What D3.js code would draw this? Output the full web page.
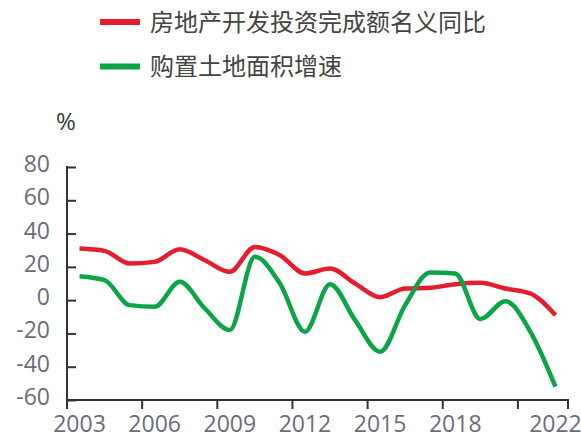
<!DOCTYPE html>
<html>
<head>
<meta charset="utf-8">
<script src="https://cdn.jsdelivr.net/npm/d3@7"></script>
<style>
  body { margin: 0; background: #fff; }
  svg { display: block; }
</style>
</head>
<body>
<script>
const width = 581, height = 441;

// annual data, % y/y
const years = d3.range(2003, 2023).map(String);
const investYoY = [31, 29.6, 22, 23, 30.6, 24, 17, 32, 27, 16, 19, 10, 1.8, 7, 7.4, 9.6, 10.4, 7, 4, -9];
const landYoY = [14.4, 12, -3, -4, 11, -5, -18, 26, 10, -19, 9.6, -12, -31, -3, 16.6, 16, -11.4, -0.6, -19, -52];
const yTicks = [-60, -40, -20, 0, 20, 40, 60, 80];
const xLabels = ['2003', '2006', '2009', '2012', '2015', '2018', '2022'];
const xTickYears = ['2003', '2006', '2009', '2012', '2015', '2018', '2021'];

const seriesNames = ['房地产开发投资完成额名义同比', '购置土地面积增速'];
const colors = ['#e41e2c', '#0ba545'];

const plotL = 67, plotR = 568, plotT = 167, plotB = 400;

const svg = d3.select('body').append('svg')
  .attr('width', width)
  .attr('height', height);

const x = d3.scaleBand().domain(years).range([plotL, plotR]).padding(0);
const y = d3.scaleLinear().domain([-60, 80]).range([plotB, plotT]);

const axisColor = '#333';
const tickText = '#6d6c7a';
const numFont = '"Open Sans", "Noto Sans", sans-serif';

// y axis, ticks pointing inward
const yAxis = svg.append('g')
  .attr('transform', `translate(${plotL},0)`)
  .call(d3.axisRight(y).tickValues(yTicks).tickSize(9).tickFormat(''));
yAxis.select('.domain').remove();
yAxis.selectAll('.tick line').attr('stroke', axisColor).attr('stroke-width', 2);
svg.append('line')
  .attr('x1', plotL).attr('x2', plotL)
  .attr('y1', plotT - 1).attr('y2', plotB)
  .attr('stroke', axisColor).attr('stroke-width', 2);

svg.append('g').selectAll('text')
  .data(yTicks)
  .join('text')
  .attr('x', 50)
  .attr('y', d => y(d) - 3)
  .attr('dy', '0.35em')
  .attr('text-anchor', 'end')
  .attr('font-family', numFont)
  .attr('font-size', 23)
  .attr('fill', tickText)
  .text(d => d);

// x axis
const xTickPos = xTickYears.map(d => x(d)).concat([plotR]);
svg.append('line')
  .attr('x1', plotL - 1).attr('x2', plotR + 1)
  .attr('y1', plotB).attr('y2', plotB)
  .attr('stroke', axisColor).attr('stroke-width', 2);
svg.append('g').selectAll('line')
  .data(xTickPos)
  .join('line')
  .attr('x1', d => d).attr('x2', d => d)
  .attr('y1', plotB).attr('y2', plotB + 9)
  .attr('stroke', axisColor).attr('stroke-width', 2);

svg.append('g').selectAll('text')
  .data(xLabels)
  .join('text')
  .attr('x', d => x(d) + x.bandwidth() / 2)
  .attr('y', 432)
  .attr('text-anchor', 'middle')
  .attr('font-family', numFont)
  .attr('font-size', 23)
  .attr('fill', tickText)
  .text(d => d);

// unit
svg.append('text')
  .attr('x', 66).attr('y', 130)
  .attr('text-anchor', 'middle')
  .attr('font-family', numFont)
  .attr('font-size', 24)
  .attr('fill', '#3a3a3a')
  .text('%');

// lines
const line = d3.line()
  .x((d, i) => x(years[i]) + x.bandwidth() / 2)
  .y(d => y(d))
  .curve(d3.curveMonotoneX);

svg.append('g').selectAll('path')
  .data([investYoY, landYoY])
  .join('path')
  .attr('d', line)
  .attr('fill', 'none')
  .attr('stroke', (d, i) => colors[i])
  .attr('stroke-width', 4.5)
  .attr('stroke-linejoin', 'round');

// legend
const legend = svg.append('g').selectAll('g')
  .data(seriesNames)
  .join('g')
  .attr('transform', (d, i) => `translate(100,${22 + i * 44.5})`);
legend.append('line')
  .attr('x1', 0).attr('x2', 40)
  .attr('stroke', (d, i) => colors[i])
  .attr('stroke-width', 6);
legend.append('text')
  .attr('x', 50)
  .attr('dy', '0.36em')
  .attr('font-family', '"Noto Sans CJK SC", sans-serif')
  .attr('font-size', 24)
  .attr('fill', '#444')
  .text(d => d);
</script>
</body>
</html>
